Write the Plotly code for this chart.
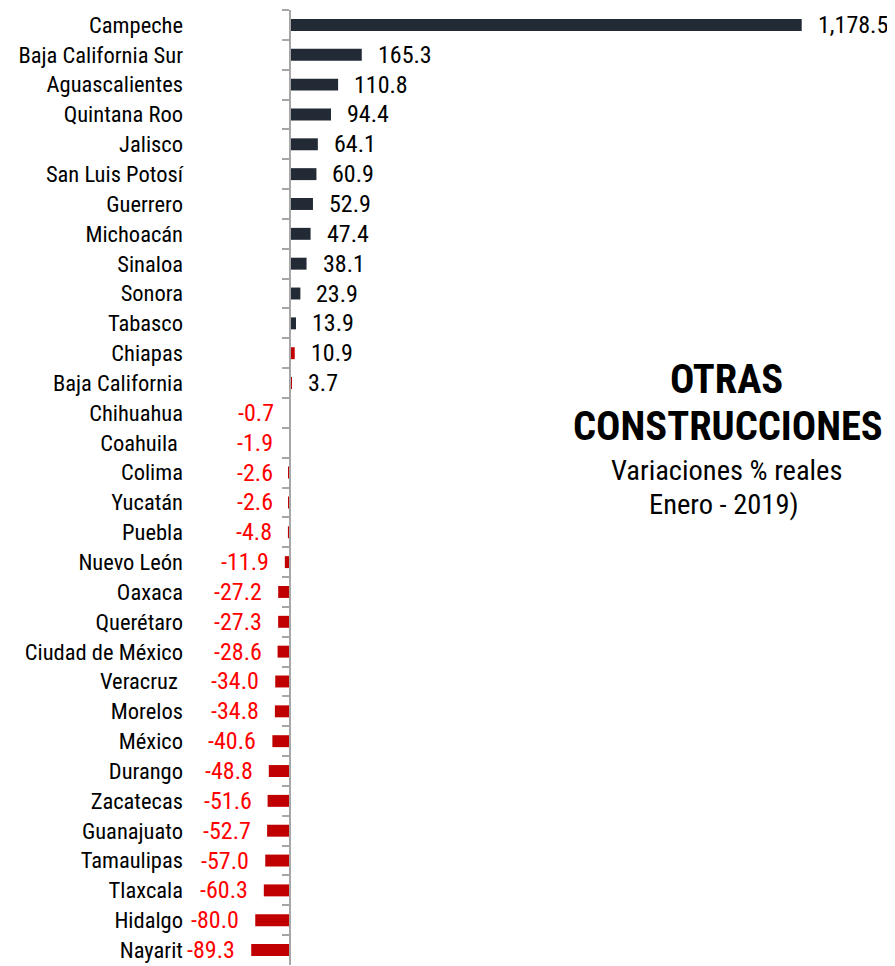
import plotly.graph_objects as go

states = ["Campeche", "Baja California Sur", "Aguascalientes", "Quintana Roo", "Jalisco",
          "San Luis Potosí", "Guerrero", "Michoacán", "Sinaloa", "Sonora", "Tabasco",
          "Chiapas", "Baja California", "Chihuahua", "Coahuila ", "Colima", "Yucatán",
          "Puebla", "Nuevo León", "Oaxaca", "Querétaro", "Ciudad de México", "Veracruz ",
          "Morelos", "México", "Durango", "Zacatecas", "Guanajuato", "Tamaulipas",
          "Tlaxcala", "Hidalgo", "Nayarit"]
values = [1178.5, 165.3, 110.8, 94.4, 64.1, 60.9, 52.9, 47.4, 38.1, 23.9, 13.9,
          10.9, 3.7, -0.7, -1.9, -2.6, -2.6, -4.8, -11.9, -27.2, -27.3, -28.6, -34.0,
          -34.8, -40.6, -48.8, -51.6, -52.7, -57.0, -60.3, -80.0, -89.3]
title_lines = ["OTRAS", "CONSTRUCCIONES", "Variaciones % reales", "Enero - 2019)"]

# --- styling ---
DARK = "#222a35"
RED_BAR = "#c00000"
RED_TXT = "#ff0000"
AXIS_GRAY = "#a6a6a6"
FONT = "Roboto Condensed, Liberation Sans, Arial, sans-serif"
red_positive = {"Chiapas", "Baja California"}

bar_colors = [RED_BAR if (v < 0 or s in red_positive) else DARK for s, v in zip(states, values)]

XMIN, XMAX = -230.3, 1197.6
n = len(states)
yrange = [n - 0.5, -0.5]

def fmt(v):
    return f"{v:,.1f}"

fig = go.Figure()
fig.add_trace(go.Bar(
    x=values, y=states, orientation="h", marker=dict(color=bar_colors, line=dict(width=0)),
    width=0.4, hoverinfo="skip", showlegend=False,
))
fig.add_trace(go.Scatter(
    x=[0] * n, y=states, yaxis="y2", mode="markers", marker=dict(opacity=0),
    hoverinfo="skip", showlegend=False,
))

for s, v in zip(states, values):
    pos = v >= 0
    fig.add_annotation(
        x=v, y=s, text=fmt(v), showarrow=False,
        xanchor="left" if pos else "right", xshift=14 if pos else -14,
        yanchor="middle",
        font=dict(family=FONT, size=24, color="#000000" if pos else RED_TXT),
    )

title_pos = [(0.866, 0.6136, 40.5, True), (0.8685, 0.5644, 40.5, True),
             (0.866, 0.5183, 28.5, False), (0.861, 0.4817, 28.5, False)]
for (x, y, sz, bold), t in zip(title_pos, title_lines):
    fig.add_annotation(xref="paper", yref="paper", x=x, y=y, xanchor="center", yanchor="middle",
                       text=f"<b>{t}</b>" if bold else t,
                       showarrow=False, font=dict(family=FONT, size=sz, color="#000"))

zero_pos = (0 - XMIN) / (XMAX - XMIN)

fig.update_layout(
    width=887, height=958,
    margin=dict(l=182, r=85, t=2, b=1),
    paper_bgcolor="white", plot_bgcolor="white",
    xaxis=dict(range=[XMIN, XMAX], visible=False, showgrid=False, zeroline=False),
    yaxis=dict(type="category", categoryarray=states, range=yrange, showline=False,
               ticks="", showgrid=False, zeroline=False, ticklabelstandoff=6,
               tickfont=dict(family=FONT, size=22.5, color="#000")),
    yaxis2=dict(type="category", categoryarray=states, range=yrange, overlaying="y",
                anchor="free", position=zero_pos, side="left", showline=True,
                linecolor=AXIS_GRAY, linewidth=1.5, ticks="outside", tickson="boundaries",
                ticklen=7, tickcolor=AXIS_GRAY, tickwidth=1.5, showticklabels=False,
                showgrid=False, zeroline=False),
)

fig.write_html("out.html")
